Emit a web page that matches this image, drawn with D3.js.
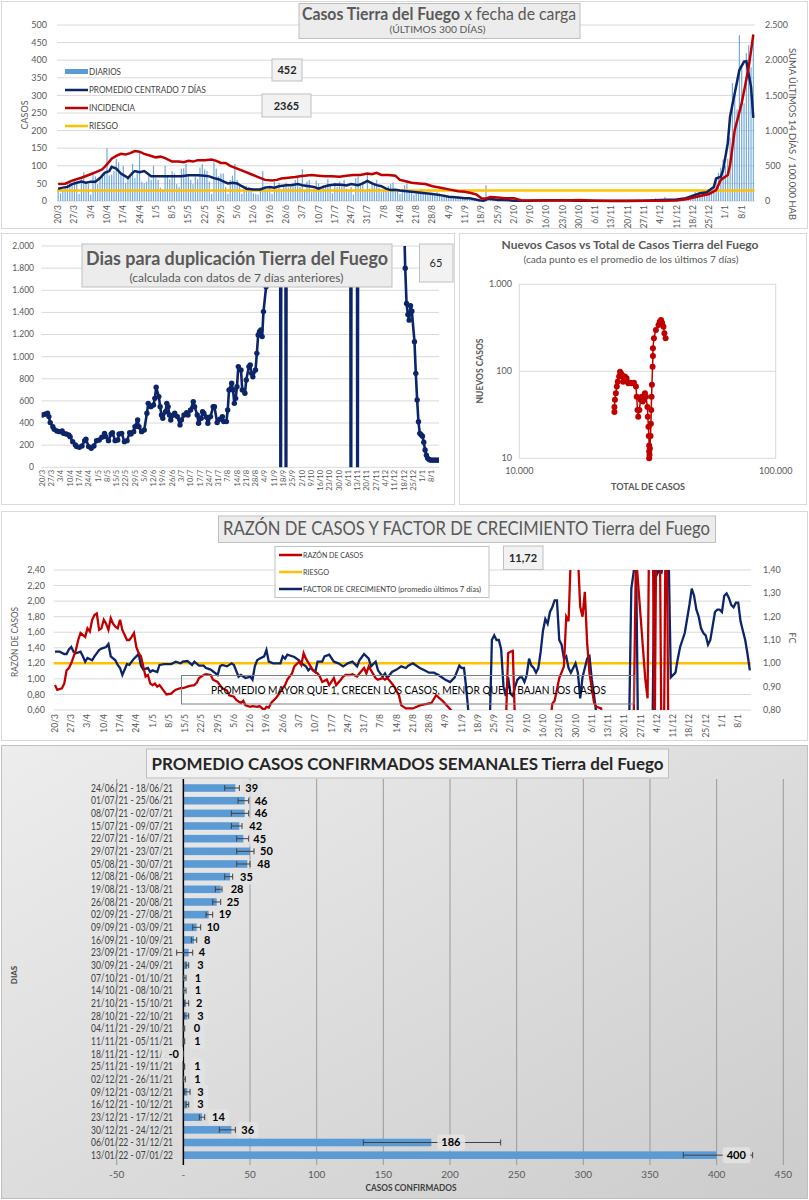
<!DOCTYPE html>
<meta charset="utf-8">
<style>
body { margin: 0; background: #fff; }
text { font-family: Lato, "Open Sans", sans-serif; }
</style>
<body>
<script src="https://cdn.jsdelivr.net/npm/d3@7"></script>
<script>

// ---------- data ----------
// day numbers count from 20/3/2021 (day 0) to 13/1/2022 (day 299)
const start = new Date(2021, 2, 20);

// daily cases, one row per week starting 20/3
const dailyCases = [
  28,22,30,40,48,58,45,  60,55,20,62,82,55,48,  18,75,70,48,62,70,75,
  150,72,75,85,120,110,80,  100,52,72,68,105,65,80,  140,55,50,55,75,60,100,
  65,60,38,30,100,70,62,  85,78,48,40,92,93,105,  75,60,48,70,62,95,105,
  90,85,55,20,110,92,70,  78,78,40,20,60,72,105,  60,45,20,28,42,40,35,
  22,20,18,38,85,42,32,  40,20,55,35,52,30,45,  52,38,40,45,60,70,40,
  90,30,55,60,25,35,58,  50,30,45,40,62,48,22,  52,40,55,45,60,35,30,
  40,18,65,70,48,55,30,  80,35,55,48,60,38,25,  30,35,42,48,52,30,28,
  20,35,45,50,28,22,18,  25,30,35,25,22,18,20,  20,18,25,22,15,18,15,
  12,10,14,8,12,10,9,  10,8,6,5,7,4,6,  2,3,45,1,2,3,1,
  3,2,4,1,2,3,1,  1,0,2,1,1,0,1,  0,1,2,1,0,1,2,
  2,3,1,4,2,3,2,  3,1,2,4,1,0,1,  0,1,0,1,0,2,1,
  1,0,2,1,0,1,0,  0,0,1,0,0,1,0,  1,0,2,1,0,1,1,
  2,1,0,1,1,8,3,  4,2,12,3,2,4,3,  3,2,5,4,3,8,12,
  15,25,12,18,20,22,28,  30,38,45,60,80,95,118,  100,120,180,335,313,260,471,
  380,278,420,443,380,452
];

// 7-day centred average [day, cases]
const avg7 = [
  [0,35],[2,38],[4,40],[6,48],[8,52],[10,55],[12,52],[14,55],[16,55],[18,65],[20,80],[22,85],[23,97],
  [25,92],[27,78],[29,70],[30,65],[32,80],[33,85],[35,82],[37,85],[38,80],[40,70],[42,70],[46,70],
  [49,70],[53,70],[56,73],[60,73],[63,72],[65,70],[67,65],[69,62],[71,56],[73,50],[75,52],[77,50],
  [79,42],[81,35],[84,33],[87,33],[89,38],[91,40],[93,38],[95,42],[98,45],[100,45],[103,48],[105,45],
  [108,42],[110,40],[112,35],[114,40],[116,44],[119,47],[122,46],[124,44],[126,48],[129,45],[131,50],
  [133,57],[135,50],[137,45],[139,42],[141,35],[143,31],[145,32],[147,30],[150,28],[154,25],[157,23],
  [161,20],[165,16],[168,12],[172,10],[175,8],[177,8],[179,5],[181,2],[183,1],[185,6],[187,5],[189,3],
  [192,3],[196,1],[203,1],[210,2],[217,2],[224,1],[231,1],[238,0],[245,0],[252,1],[259,3],[266,4],
  [270,8],[273,15],[276,22],[279,25],[281,35],[282,40],[283,64],[285,69],[286,88],[288,164],[289,240],
  [291,306],[293,372],[295,396],[296,397],[298,325],[299,236]
];

// sum of last 14 days per 100.000 inhabitants [day, value]
const incidence = [
  [0,240],[3,245],[6,290],[10,330],[14,380],[17,420],[19,450],[21,520],[23,600],[25,640],[27,670],
  [29,660],[31,680],[33,710],[35,700],[37,670],[39,650],[42,620],[44,630],[46,610],[49,560],[52,560],
  [54,550],[56,570],[58,560],[60,580],[63,580],[66,590],[68,570],[70,540],[72,540],[74,500],[77,460],
  [80,420],[83,380],[86,340],[89,300],[92,290],[94,300],[96,320],[99,330],[102,340],[104,350],[106,360],
  [109,370],[112,360],[115,350],[118,350],[121,345],[124,360],[127,370],[130,370],[133,390],[135,380],
  [137,400],[139,370],[142,370],[145,360],[147,300],[149,285],[152,260],[155,250],[158,240],[161,210],
  [165,185],[168,165],[172,140],[175,130],[178,110],[180,90],[182,40],[184,35],[186,55],[189,50],
  [192,40],[196,40],[199,10],[203,8],[210,6],[217,8],[224,15],[227,10],[231,5],[238,2],[245,2],
  [252,3],[259,5],[266,8],[270,25],[273,45],[276,70],[280,100],[283,156],[285,300],[288,370],
  [289,510],[291,1010],[294,1390],[297,1900],[299,2365]
];
const riskIncidence = 150;

// days for the cases to double [day, days]; huge or negative values leave the chart
const doubling = [
  [0,473],[2,479],[4,488],[5,458],[6,404],[8,367],[9,343],[11,328],[13,322],[15,328],[16,307],[18,301],
  [20,292],[21,277],[23,232],[25,202],[26,187],[28,181],[30,193],[32,241],[33,253],[35,187],[37,172],
  [39,193],[41,241],[43,247],[45,271],[47,307],[48,277],[50,241],[52,301],[53,313],[55,241],[57,247],
  [58,301],[60,307],[62,232],[64,241],[66,313],[67,301],[69,322],[70,367],[72,428],[73,367],[75,322],
  [77,337],[79,488],[80,578],[82,548],[84,563],[85,623],[86,723],[88,639],[89,548],[90,473],[91,443],
  [93,503],[94,578],[95,548],[96,473],[97,428],[99,473],[100,488],[102,458],[104,383],[105,428],[107,473],
  [109,494],[110,473],[112,518],[114,593],[115,548],[117,473],[118,398],[120,443],[121,503],[122,488],
  [124,452],[125,398],[127,458],[129,548],[130,548],[132,404],[134,434],[136,458],[137,413],[139,413],
  [140,518],[141,699],[143,759],[144,699],[145,578],[146,623],[147,729],[148,910],[150,880],[151,699],
  [153,669],[154,789],[156,910],[157,925],[158,849],[159,819],[161,880],[162,1030],[163,1196],[164,1226],
  [165,1241],[166,1181],[167,1407],[169,1632],[170,2300],[171,9999],[179,9999],[180,-9999],[181,9999],
  [183,9999],[184,-9999],[185,9999],[232,9999],[233,-9999],[234,9999],[237,9999],[238,-9999],[239,9999],
  [272,9999],[273,2300],[274,1800],[275,1480],[276,1380],[277,1330],[278,1460],[279,1410],[281,1135],
  [282,849],[283,608],[284,412],[285,307],[286,295],[287,280],[288,226],[289,156],[290,110],[291,81],
  [292,70],[293,65],[294,65],[295,65],[296,65],[297,65],[298,65],[299,65]
];
const lastDoubling = "65";

// new cases vs total cases (7-day averages) [total, new]
const newVsTotal = [
  [23500,34],[23500,39],[23600,47],[23800,56],[24000,67],[24200,76],[24500,87],[24700,99],[24900,95],
  [25100,91],[25400,76],[25600,82],[25800,87],[26200,83],[26600,73],[27000,74],[27400,73],[28000,74],
  [28500,67],[28700,51],[28900,36],[29100,30],[29400,36],[29700,47],[30000,51],[30300,45],[30500,47],
  [30900,56],[31200,51],[31600,39],[31700,30],[31900,23],[32000,18],[32100,14],[32100,12],[32100,10],
  [32200,11],[32300,13],[32500,18],[32600,25],[32700,36],[32800,51],[32900,70],[33100,113],[33200,150],
  [33200,184],[33500,240],[34100,299],[34900,341],[35300,370],[35700,389],[36100,360],[36500,326],
  [36800,273],[37200,240]
];

// ratio of cases [day, ratio] (left axis)
const caseRatio = [
  [0,0.92],[1,0.86],[3,0.88],[4,0.94],[5,1.11],[6,1.14],[7,1.20],[9,1.37],[10,1.50],[11,1.59],[13,1.54],
  [14,1.65],[15,1.61],[16,1.76],[17,1.82],[18,1.84],[19,1.63],[20,1.65],[21,1.76],[22,1.71],[23,1.63],
  [24,1.78],[25,1.71],[26,1.67],[27,1.65],[28,1.76],[29,1.63],[31,1.50],[32,1.50],[33,1.54],[34,1.59],
  [35,1.41],[36,1.33],[37,1.29],[38,1.16],[39,1.03],[40,1.05],[41,0.94],[42,0.92],[43,0.94],[44,0.90],
  [45,0.92],[47,0.84],[48,0.80],[50,0.81],[51,0.84],[52,0.86],[54,0.88],[55,0.88],[57,0.90],[58,0.91],
  [60,0.92],[61,0.95],[62,1.01],[64,1.05],[65,1.06],[67,1.05],[68,0.99],[70,0.96],[71,0.92],[72,0.88],
  [74,0.85],[75,0.79],[77,0.77],[78,0.73],[80,0.69],[81,0.72],[82,0.66],[84,0.64],[85,0.65],[87,0.64],
  [88,0.65],[90,0.60],[91,0.64],[92,0.63],[93,0.69],[95,0.75],[96,0.79],[98,0.88],[99,0.92],[100,0.99],
  [102,1.07],[103,1.16],[105,1.22],[106,1.18],[107,1.33],[108,1.26],[110,1.16],[111,1.11],[113,1.07],
  [114,1.03],[115,0.96],[117,0.99],[118,0.92],[120,1.01],[121,0.92],[123,0.99],[124,1.03],[125,1.05],
  [127,1.05],[128,1.06],[130,1.03],[131,1.07],[133,1.14],[134,1.07],[135,1.16],[136,1.11],[138,1.01],
  [139,0.99],[141,1.01],[142,0.99],[143,1.01],[145,0.94],[146,0.90],[148,0.79],[149,0.66],[151,0.62],
  [154,0.62],[157,0.66],[162,0.69],[164,0.79],[167,0.71],[171,0.58],[172,0.40],[194,0.40],[195,1.33],
  [196,1.35],[197,1.36],[198,0.40],[213,0.40],[214,0.68],[215,0.72],[217,1.01],[219,1.16],[220,1.80],
  [221,1.74],[222,2.60],[225,2.60],[226,1.93],[227,1.80],[228,2.12],[229,1.46],[230,1.07],[232,0.69],
  [233,0.64],[235,0.62],[236,0.40],[249,0.40],[250,2.60],[251,2.20],[252,1.80],[253,1.40],[254,1.00],
  [255,0.75],[256,4],[257,4],[258,0],[259,4],[260,4],[261,0],[262,0],[263,4],[264,0],[299,0]
];
const riskRatio = 1.2;
const lastRatio = "11,72";

// growth factor, average of last 7 days [day, factor] (right axis)
const growthFactor = [
  [0,1.05],[2,1.05],[4,1.04],[5,1.04],[6,1.06],[7,1.07],[8,1.05],[9,1.043],[11,1.05],[12,1.03],[13,1.007],
  [14,1.023],[16,1.013],[17,1.03],[19,1.057],[20,1.063],[22,1.07],[23,1.083],[24,1.03],[26,1.013],
  [27,0.993],[28,0.98],[29,0.95],[31,0.997],[32,0.993],[33,1.007],[34,1.02],[35,1.03],[36,1.04],[37,0.99],
  [38,0.973],[40,0.98],[41,0.963],[42,0.97],[44,0.963],[45,0.993],[47,0.997],[50,0.997],[52,1.007],
  [54,1.00],[55,1.007],[57,1.01],[59,0.993],[60,1.007],[62,0.99],[64,0.99],[65,0.98],[67,0.973],[70,0.95],
  [71,0.987],[72,0.993],[74,0.987],[76,1.00],[77,0.993],[79,0.943],[80,0.95],[82,0.937],[84,0.943],
  [85,0.93],[86,0.987],[87,1.013],[88,1.02],[90,1.03],[91,1.057],[92,1.007],[94,1.00],[95,1.00],[97,1.00],
  [98,1.03],[99,1.02],[100,1.037],[103,1.027],[105,1.013],[106,1.00],[108,0.987],[109,0.97],[110,0.98],
  [112,0.963],[113,1.007],[115,1.007],[116,1.03],[118,1.037],[120,1.007],[122,1.00],[124,0.987],[126,1.00],
  [128,1.007],[130,0.987],[131,1.013],[133,1.04],[135,1.02],[136,0.987],[138,1.007],[139,0.97],[141,0.943],
  [142,0.957],[143,0.937],[145,0.963],[147,0.973],[149,0.987],[151,0.98],[152,0.99],[154,1.00],[157,0.98],
  [159,0.97],[161,0.96],[163,0.96],[165,0.95],[168,0.93],[170,0.92],[172,0.94],[174,0.99],[175,0.98],
  [176,0.98],[177,0.89],[178,0.78],[187,0.70],[188,1.10],[189,1.12],[190,1.10],[191,1.10],[192,1.06],
  [193,0.90],[194,0.86],[195,0.94],[196,0.87],[197,0.86],[198,0.90],[199,0.93],[200,0.94],[201,0.94],
  [202,0.92],[203,0.95],[204,1.02],[205,0.99],[206,0.98],[207,0.96],[208,0.98],[209,1.05],[210,1.14],
  [211,1.19],[212,1.17],[213,1.22],[214,1.24],[215,1.27],[216,1.27],[217,1.10],[218,1.08],[219,1.02],
  [220,1.03],[221,0.98],[222,0.96],[223,0.98],[224,1.00],[225,0.96],[226,0.85],[227,0.94],[228,0.98],
  [229,1.02],[230,1.03],[231,0.93],[232,0.86],[233,0.78],[247,0.70],[248,1.32],[249,1.39],[250,1.50],
  [251,0.60],[257,0.60],[258,1.50],[259,1.38],[260,1.40],[261,1.39],[262,1.45],[264,1.50],[265,0.94],
  [267,0.96],[268,1.02],[269,1.07],[271,1.13],[273,1.25],[274,1.32],[275,1.29],[276,1.23],[277,1.20],
  [278,1.15],[279,1.13],[280,1.12],[281,1.08],[282,1.10],[284,1.22],[285,1.23],[286,1.23],[287,1.22],
  [288,1.29],[289,1.30],[290,1.28],[291,1.25],[292,1.24],[293,1.26],[294,1.26],[295,1.18],[296,1.14],
  [297,1.10],[298,1.04],[299,0.97]
];

// weekly averages of confirmed cases
const weeks = [
  "24/06/21 - 18/06/21","01/07/21 - 25/06/21","08/07/21 - 02/07/21","15/07/21 - 09/07/21",
  "22/07/21 - 16/07/21","29/07/21 - 23/07/21","05/08/21 - 30/07/21","12/08/21 - 06/08/21",
  "19/08/21 - 13/08/21","26/08/21 - 20/08/21","02/09/21 - 27/08/21","09/09/21 - 03/09/21",
  "16/09/21 - 10/09/21","23/09/21 - 17/09/21","30/09/21 - 24/09/21","07/10/21 - 01/10/21",
  "14/10/21 - 08/10/21","21/10/21 - 15/10/21","28/10/21 - 22/10/21","04/11/21 - 29/10/21",
  "11/11/21 - 05/11/21","18/11/21 - 12/11/21","25/11/21 - 19/11/21","02/12/21 - 26/11/21",
  "09/12/21 - 03/12/21","16/12/21 - 10/12/21","23/12/21 - 17/12/21","30/12/21 - 24/12/21",
  "06/01/22 - 31/12/21","13/01/22 - 07/01/22"
];
const weekAvg  = [39,46,46,42,45,50,48,35,28,25,19,10,8,4,3,1,1,2,3,0.3,0.7,-0.3,0.7,0.6,3,3,14,36,186,400];
const weekLow  = [31,41,36,36,40,40,40,31,24,22,17,7,6,-5,2,0,0,1,1,0,0,-0.5,0.4,0,1,2,12,27,135,375];
const weekHigh = [42,49,49,44,49,53,50,37,29,28,22,13,10,7,4,2,2,4,4,1,1,0,1,1.5,5,4,16,39,238,427];

// ---------- helpers ----------
const dayDate = d => d3.timeDay.offset(start, d);
const fmtDay = d3.timeFormat("%-d/%-m");
const loc = d3.formatLocale({decimal: ",", thousands: ".", grouping: [3], currency: ["", ""]});
const fmtInt = loc.format(",d");
const fmt2 = loc.format(".2f");
const weekTicks = d3.range(0, 300, 7);

const NAVY = "#0c2468", RED = "#c00000", GOLD = "#ffc000", BLUE = "#5b9bd5";

const svg = d3.select("body").append("svg").attr("width", 809).attr("height", 1200);
const defs = svg.append("defs");

function txt(g, x, y, s, size, color, anchor) {
  return g.append("text").attr("x", x).attr("y", y).attr("font-size", size)
      .attr("fill", color || "#595959").attr("text-anchor", anchor || "start").text(s);
}
function fit(sel, w) {
  return sel.attr("textLength", w).attr("lengthAdjust", "spacingAndGlyphs");
}
function tbox(g, x0, y0, x1, y1, fill) {
  return g.append("rect").attr("x", x0).attr("y", y0).attr("width", x1 - x0).attr("height", y1 - y0)
      .attr("fill", fill || "#ececec").attr("stroke", "#bfbfbf");
}
function frame(x, y, w, h) {
  return svg.append("rect").attr("x", x).attr("y", y).attr("width", w).attr("height", h)
      .attr("fill", "#fff").attr("stroke", "#d9d9d9");
}
function hgrid(g, scale, ticks, x0, x1) {
  g.append("g").selectAll("line").data(ticks).join("line")
      .attr("x1", x0).attr("x2", x1)
      .attr("y1", d => scale(d)).attr("y2", d => scale(d))
      .attr("stroke", "#d9d9d9");
}
function dateLabels(g, x, yTop, size) {
  g.append("g").selectAll("text").data(weekTicks).join("text")
      .attr("transform", d => `translate(${x(d)},${yTop}) rotate(-90)`)
      .attr("text-anchor", "end").attr("dy", "0.35em")
      .attr("font-size", size).attr("fill", "#595959")
      .text(d => fmtDay(dayDate(d)));
}
function clip(id, x, y, w, h) {
  defs.append("clipPath").attr("id", id).append("rect")
      .attr("x", x).attr("y", y).attr("width", w).attr("height", h);
  return "url(#" + id + ")";
}

// ---------- panel 1: daily cases ----------
frame(1.5, 1.5, 806, 227);
const g1 = svg.append("g");
const x1 = d3.scaleLinear().domain([-0.5, 299.5]).range([57, 754.5]);
const y1 = d3.scaleLinear().domain([0, 500]).range([201, 25]);
const y1r = d3.scaleLinear().domain([0, 2500]).range([201, 25]);

hgrid(g1, y1, y1.ticks(10), 57, 754.5);
g1.append("g").selectAll("text").data(y1.ticks(10)).join("text")
    .attr("x", 47).attr("y", d => y1(d)).attr("dy", "0.35em").attr("text-anchor", "end")
    .attr("font-size", 9).attr("fill", "#595959").text(d => d);
g1.append("g").selectAll("text").data(y1r.ticks(5)).join("text")
    .attr("x", 765).attr("y", d => y1r(d)).attr("dy", "0.35em")
    .attr("font-size", 9).attr("fill", "#595959").text(d => fmtInt(d));
dateLabels(g1, x1, 205, 8.5);

g1.append("g").attr("fill", BLUE).attr("fill-opacity", 0.85).selectAll("rect").data(dailyCases).join("rect")
    .attr("x", (d, i) => x1(i) - 0.6).attr("width", 1.2)
    .attr("y", d => y1(d)).attr("height", d => y1(0) - y1(d));

g1.append("line").attr("x1", 57).attr("x2", 754.5)
    .attr("y1", y1r(riskIncidence)).attr("y2", y1r(riskIncidence))
    .attr("stroke", GOLD).attr("stroke-width", 2.5);
g1.append("path").datum(avg7).attr("fill", "none").attr("stroke", NAVY).attr("stroke-width", 2.5)
    .attr("d", d3.line().x(d => x1(d[0])).y(d => y1(d[1])));
g1.append("path").datum(incidence).attr("fill", "none").attr("stroke", RED).attr("stroke-width", 2.5)
    .attr("d", d3.line().x(d => x1(d[0])).y(d => y1r(d[1])));

// legend
g1.append("rect").attr("x", 65).attr("y", 69).attr("width", 23).attr("height", 5).attr("fill", BLUE);
[["PROMEDIO CENTRADO 7 DÍAS", NAVY, 90], ["INCIDENCIA", RED, 108], ["RIESGO", GOLD, 126]].forEach(l => {
  g1.append("line").attr("x1", 65).attr("x2", 88).attr("y1", l[2]).attr("y2", l[2])
      .attr("stroke", l[1]).attr("stroke-width", 2.5);
});
fit(txt(g1, 89, 75, "DIARIOS", 8.5, "#404040"), 32);
fit(txt(g1, 89, 93, "PROMEDIO CENTRADO 7 DÍAS", 8.5, "#404040"), 117);
fit(txt(g1, 89, 111, "INCIDENCIA", 8.5, "#404040"), 46);
fit(txt(g1, 89, 129, "RIESGO", 8.5, "#404040"), 29);

g1.append("text").attr("transform", "translate(28,115) rotate(-90)").attr("text-anchor", "middle")
    .attr("font-size", 9).attr("fill", "#595959").text("CASOS");
fit(g1.append("text").attr("transform", "translate(789,134) rotate(90)").attr("text-anchor", "middle")
    .attr("font-size", 9.5).attr("fill", "#595959").text("SUMA ÚLTIMOS 14 DÍAS / 100.000 HAB"), 172);

tbox(g1, 272, 59, 302, 81, "#f2f2f2");
txt(g1, 287, 74, String(dailyCases[dailyCases.length - 1]), 11, "#262626", "middle").attr("font-weight", 700);
tbox(g1, 262, 94, 311, 117, "#f2f2f2");
txt(g1, 286.5, 109.5, String(incidence[incidence.length - 1][1]), 11, "#262626", "middle").attr("font-weight", 700);

tbox(g1, 299, 3.5, 580, 38.5);
const t1 = fit(txt(g1, 302, 20, "", 16.5), 274);
t1.append("tspan").attr("font-weight", 700).text("Casos Tierra del Fuego");
t1.append("tspan").text(" x fecha de carga");
fit(txt(g1, 437.5, 33, "(ÚLTIMOS 300 DÍAS)", 10, "#595959", "middle"), 96);

// ---------- panel 2: doubling days ----------
frame(1.5, 233.5, 453, 271);
const g2 = svg.append("g");
const x2 = d3.scaleLinear().domain([-0.5, 299.5]).range([41.6, 439]);
const y2 = d3.scaleLinear().domain([0, 2000]).range([467.3, 246]);

hgrid(g2, y2, y2.ticks(10), 41.6, 439);
g2.append("g").selectAll("text").data(y2.ticks(10)).join("text")
    .attr("x", 34).attr("y", d => y2(d)).attr("dy", "0.35em").attr("text-anchor", "end")
    .attr("font-size", 8.5).attr("fill", "#595959").text(d => fmtInt(d));
dateLabels(g2, x2, 470, 7.5);

const c2 = g2.append("g").attr("clip-path", clip("clip2", 41.6, 246, 397.4, 221.3));
c2.append("path").datum(doubling).attr("fill", "none").attr("stroke", NAVY).attr("stroke-width", 2.6)
    .attr("stroke-linejoin", "round")
    .attr("d", d3.line().x(d => x2(d[0])).y(d => y2(Math.max(-3000, Math.min(20000, d[1])))));
c2.append("g").attr("fill", NAVY).selectAll("circle").data(doubling.filter(d => d[1] >= 0 && d[1] <= 2000))
    .join("circle").attr("cx", d => x2(d[0])).attr("cy", d => y2(d[1])).attr("r", 2.7);

tbox(g2, 82, 244, 392, 287);
fit(txt(g2, 237, 265, "Dias para duplicación Tierra del Fuego", 18, "#595959", "middle").attr("font-weight", 700), 302);
fit(txt(g2, 236.5, 281.5, "(calculada con datos de 7 días anteriores)", 11, "#595959", "middle"), 214);
tbox(g2, 419.5, 244, 453, 282, "#f2f2f2");
txt(g2, 436, 267, lastDoubling, 11, "#262626", "middle");

// ---------- panel 3: new vs total (log-log) ----------
frame(459.5, 233.5, 347, 271);
const g3 = svg.append("g");
const x3 = d3.scaleLog().domain([10000, 100000]).range([519.3, 775.7]);
const y3 = d3.scaleLog().domain([10, 1000]).range([458.3, 284.3]);

g3.append("rect").attr("x", 519.3).attr("y", 284.3).attr("width", 256.4).attr("height", 174)
    .attr("fill", "none").attr("stroke", "#d9d9d9");
hgrid(g3, y3, [100], 519.3, 775.7);
g3.append("g").selectAll("text").data([10, 100, 1000]).join("text")
    .attr("x", 512).attr("y", d => y3(d)).attr("dy", "0.35em").attr("text-anchor", "end")
    .attr("font-size", 9).attr("fill", "#595959").text(d => fmtInt(d));
g3.append("g").selectAll("text").data([10000, 100000]).join("text")
    .attr("x", d => x3(d)).attr("y", 474).attr("text-anchor", "middle")
    .attr("font-size", 9).attr("fill", "#595959").text(d => fmtInt(d));

const c3 = g3.append("g").attr("clip-path", clip("clip3", 515, 280, 265, 182));
c3.append("path").datum(newVsTotal).attr("fill", "none").attr("stroke", RED).attr("stroke-width", 1.5)
    .attr("d", d3.line().x(d => x3(d[0])).y(d => y3(d[1])));
c3.append("g").attr("fill", RED).selectAll("circle").data(newVsTotal).join("circle")
    .attr("cx", d => x3(d[0])).attr("cy", d => y3(d[1])).attr("r", 3);

fit(txt(g3, 630, 249, "Nuevos Casos vs Total de Casos Tierra del Fuego", 12, "#595959", "middle").attr("font-weight", 700), 257);
fit(txt(g3, 631, 263, "(cada punto es el promedio de los últimos 7 días)", 9.5, "#595959", "middle"), 215);
fit(g3.append("text").attr("transform", "translate(483,371) rotate(-90)").attr("text-anchor", "middle")
    .attr("font-size", 9.5).attr("font-weight", 700).attr("fill", "#595959").text("NUEVOS CASOS"), 65);
fit(txt(g3, 648, 490, "TOTAL DE CASOS", 9.5, "#595959", "middle").attr("font-weight", 700), 74);

// ---------- panel 4: ratio and growth factor ----------
frame(1.5, 511.5, 806, 229);
const g4 = svg.append("g");
const x4 = d3.scaleLinear().domain([-0.5, 299.5]).range([53.8, 751]);
const y4 = d3.scaleLinear().domain([0.6, 2.4]).range([710, 570]);
const y4r = d3.scaleLinear().domain([0.8, 1.4]).range([710, 570]);

hgrid(g4, y4, y4.ticks(10), 53.8, 751);
g4.append("g").selectAll("text").data(y4.ticks(10)).join("text")
    .attr("x", 45).attr("y", d => y4(d)).attr("dy", "0.35em").attr("text-anchor", "end")
    .attr("font-size", 9).attr("fill", "#595959").text(d => fmt2(d));
g4.append("g").selectAll("text").data(y4r.ticks(6)).join("text")
    .attr("x", 763).attr("y", d => y4r(d)).attr("dy", "0.35em")
    .attr("font-size", 9).attr("fill", "#595959").text(d => fmt2(d));
dateLabels(g4, x4, 714, 8.5);

g4.append("line").attr("x1", 53.8).attr("x2", 751).attr("y1", y4(riskRatio)).attr("y2", y4(riskRatio))
    .attr("stroke", GOLD).attr("stroke-width", 2.5);
const c4 = g4.append("g").attr("clip-path", clip("clip4", 53.8, 570, 697.2, 140));
c4.append("path").datum(growthFactor).attr("fill", "none").attr("stroke", NAVY).attr("stroke-width", 2.3)
    .attr("d", d3.line().x(d => x4(d[0])).y(d => y4r(d[1])));
c4.append("path").datum(caseRatio).attr("fill", "none").attr("stroke", RED).attr("stroke-width", 2.3)
    .attr("d", d3.line().x(d => x4(d[0])).y(d => y4(d[1])));

g4.append("rect").attr("x", 181.5).attr("y", 675.5).attr("width", 452.5).attr("height", 28.5)
    .attr("fill", "none").attr("stroke", "#7f7f7f");
fit(txt(g4, 408.5, 694, "PROMEDIO MAYOR QUE 1, CRECEN LOS CASOS, MENOR QUE 1, BAJAN LOS CASOS", 12, "#000", "middle"), 395);

g4.append("rect").attr("x", 275).attr("y", 546.5).attr("width", 214).attr("height", 51)
    .attr("fill", "#fff").attr("stroke", "#bfbfbf");
[["RAZÓN DE CASOS", RED, 555, 60], ["RIESGO", GOLD, 572, 26],
 ["FACTOR DE CRECIMIENTO (promedio últimos 7 días)", NAVY, 589, 178]].forEach(l => {
  g4.append("line").attr("x1", 279).attr("x2", 302).attr("y1", l[2]).attr("y2", l[2])
      .attr("stroke", l[1]).attr("stroke-width", 2.5);
  fit(txt(g4, 303, l[2] + 3, l[0], 7.5, "#404040"), l[3]);
});
tbox(g4, 503.5, 546, 543, 569.5, "#f2f2f2");
txt(g4, 523, 562, lastRatio, 11, "#262626", "middle").attr("font-weight", 700);

tbox(g4, 218.5, 516, 715.5, 542.5);
fit(txt(g4, 223, 535, "RAZÓN DE CASOS Y FACTOR DE CRECIMIENTO Tierra del Fuego", 19, "#595959"), 487);

fit(g4.append("text").attr("transform", "translate(18,642) rotate(-90)").attr("text-anchor", "middle")
    .attr("font-size", 9).attr("fill", "#595959").text("RAZÓN DE CASOS"), 70);
g4.append("text").attr("transform", "translate(789,638) rotate(90)").attr("text-anchor", "middle")
    .attr("font-size", 9).attr("fill", "#595959").text("FC");

// ---------- panel 5: weekly averages ----------
const grad = defs.append("linearGradient").attr("id", "bg5")
    .attr("x1", "0").attr("y1", "0").attr("x2", "1").attr("y2", "1");
grad.append("stop").attr("offset", "0").attr("stop-color", "#ededed");
grad.append("stop").attr("offset", "1").attr("stop-color", "#cccccc");
svg.append("rect").attr("x", 1.5).attr("y", 745.5).attr("width", 806).attr("height", 453)
    .attr("fill", "url(#bg5)").attr("stroke", "#bfbfbf");
const g5 = svg.append("g");
const x5 = d3.scaleLinear().domain([-50, 450]).range([116.7, 783.3]);
const y5 = d3.scaleBand().domain(weeks).range([781.7, 1161.5]).paddingInner(0.4).paddingOuter(0.2);

g5.append("g").selectAll("line").data(x5.ticks(10).filter(d => d !== 0)).join("line")
    .attr("x1", d => x5(d)).attr("x2", d => x5(d)).attr("y1", 779).attr("y2", 1165)
    .attr("stroke", "#9a9a9a");
g5.append("g").selectAll("text").data(x5.ticks(10)).join("text")
    .attr("x", d => x5(d)).attr("y", 1178).attr("text-anchor", "middle")
    .attr("font-size", 10).attr("fill", "#595959").text(d => d === 0 ? "-" : d);

g5.append("g").attr("fill", BLUE).selectAll("rect").data(weekAvg).join("rect")
    .attr("x", d => x5(Math.min(0, d))).attr("width", d => Math.abs(x5(d) - x5(0)))
    .attr("y", (d, i) => y5(weeks[i])).attr("height", y5.bandwidth());
g5.append("line").attr("x1", x5(0)).attr("x2", x5(0)).attr("y1", 779).attr("y2", 1165)
    .attr("stroke", "#000").attr("stroke-width", 1.5);

g5.append("g").selectAll("text").data(weeks).join("text")
    .attr("x", 173).attr("y", d => y5(d) + y5.bandwidth() / 2).attr("dy", "0.35em")
    .attr("text-anchor", "end").attr("font-size", 10.5).attr("fill", "#404040")
    .attr("textLength", 82).attr("lengthAdjust", "spacingAndGlyphs").text(d => d);

const eb = g5.append("g").attr("stroke", "#404040").attr("stroke-width", 1);
weeks.forEach((w, i) => {
  const cy = y5(w) + y5.bandwidth() / 2;
  const a = x5(weekLow[i]), b = x5(weekHigh[i]);
  eb.append("line").attr("x1", a).attr("x2", b).attr("y1", cy).attr("y2", cy);
  eb.append("line").attr("x1", a).attr("x2", a).attr("y1", cy - 3).attr("y2", cy + 3);
  eb.append("line").attr("x1", b).attr("x2", b).attr("y1", cy - 3).attr("y2", cy + 3);
});

weeks.forEach((w, i) => {
  const v = weekAvg[i];
  const cy = y5(w) + y5.bandwidth() / 2;
  const s = v < 0 ? "-" + Math.round(-v) : String(Math.round(v));
  const neg = v < 0;
  const tx = neg ? x5(v) - 4 : x5(v) + 10;
  const wdt = s.length * 6.6 + 8;
  g5.append("rect").attr("x", neg ? tx - wdt + 4 : tx - 4).attr("y", cy - 8).attr("width", wdt).attr("height", 16)
      .attr("rx", 3).attr("fill", "#e2e2e2").attr("fill-opacity", 0.9);
  txt(g5, tx, cy, s, 11, "#000", neg ? "end" : "start").attr("dy", "0.35em").attr("font-weight", 700);
});

tbox(g5, 146.5, 749, 668.5, 778, "#f2f2f2");
fit(txt(g5, 407.5, 770, "PROMEDIO CASOS CONFIRMADOS SEMANALES Tierra del Fuego", 17, "#262626", "middle")
    .attr("font-weight", 700), 512);
fit(txt(g5, 411, 1191, "CASOS CONFIRMADOS", 9, "#404040", "middle").attr("font-weight", 700), 91);
g5.append("text").attr("transform", "translate(17,975) rotate(-90)").attr("text-anchor", "middle")
    .attr("font-size", 8).attr("font-weight", 700).attr("fill", "#404040").text("DIAS");

</script>
